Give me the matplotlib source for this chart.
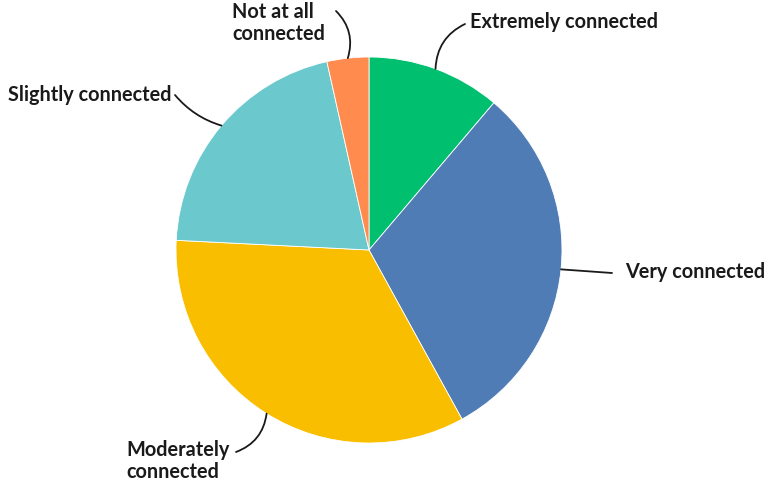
import numpy as np
import matplotlib.pyplot as plt

categories = ["Extremely connected", "Very connected", "Moderately connected",
              "Slightly connected", "Not at all connected"]
values = [11.2, 30.8, 33.8, 20.7, 3.5]
colors = ["#00BF6F", "#507CB6", "#F9BE00", "#6BC8CD", "#FF8B4F"]

W, H = 768, 483
fig = plt.figure(figsize=(W / 100, H / 100), dpi=100)
ax = fig.add_axes([0, 0, 1, 1])

cx, cy, r = 369, H - 250, 193
wedges, _ = ax.pie(values, colors=colors, startangle=90, counterclock=False,
                   center=(cx, cy), radius=r, frame=True,
                   wedgeprops=dict(edgecolor="white", linewidth=0.6))
ax.set_xlim(0, W)
ax.set_ylim(0, H)
ax.set_aspect("equal")
ax.axis("off")

font = dict(family="Lato", fontweight="bold", fontsize=14.3, color="#1a1a1a")

# label text, text anchor, leader end point, curvature
labels = [
    ("Extremely connected", (470, H - 22), "left", "center", (465, H - 24), 0.3),
    ("Very connected", (625, H - 272), "left", "center", (612, H - 273), 0.0),
    ("Moderately\nconnected", (126, H - 461), "left", "center", (236, H - 452), 0.3),
    ("Slightly connected", (172, H - 95), "right", "center", (175, H - 95), 0.15),
    ("Not at all\nconnected", (232, H - 23), "left", "center", (336, H - 11), -0.3),
]

for w, (txt, pos, ha, va, end, rad) in zip(wedges, labels):
    mid = np.deg2rad((w.theta1 + w.theta2) / 2)
    edge = (cx + r * np.cos(mid), cy + r * np.sin(mid))
    ax.annotate("", xy=edge, xytext=end,
                arrowprops=dict(arrowstyle="-", color="#1a1a1a", lw=1.3,
                                connectionstyle=f"arc3,rad={rad}",
                                shrinkA=0, shrinkB=0))
    ax.text(pos[0], pos[1], txt, ha=ha, va=va, linespacing=1.1, **font)

fig.savefig("out.png", dpi=100)
